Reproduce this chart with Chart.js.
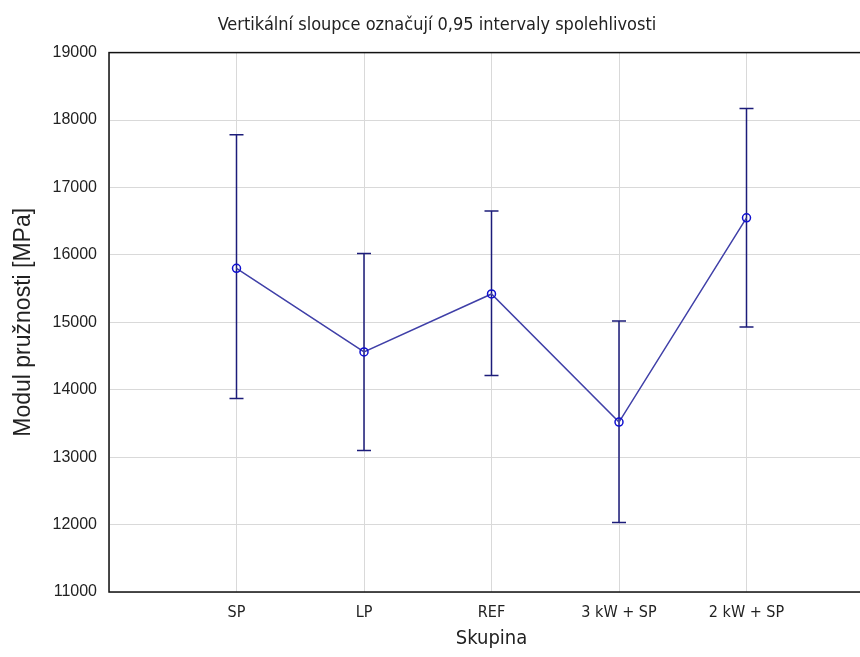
<!DOCTYPE html>
<html>
<head>
<meta charset="utf-8">
<script src="https://cdn.jsdelivr.net/npm/chart.js@4.4.1/dist/chart.umd.min.js"></script>
<style>
  html, body { margin: 0; padding: 0; background: #fff; overflow: hidden; }
  #wrap { width: 898px; height: 657px; }
</style>
</head>
<body>
<div id="wrap"><canvas id="chart" width="898" height="657"></canvas></div>
<script>
const categories = ["SP", "LP", "REF", "3 kW + SP", "2 kW + SP"];
const means = [15800, 14560, 15420, 13520, 16550];
const upper = [17780, 16020, 16650, 15020, 18170];
const lower = [13870, 13100, 14210, 12030, 14930];
const yTicks = [11000, 12000, 13000, 14000, 15000, 16000, 17000, 18000, 19000];

const narrow = "'Liberation Sans Narrow', 'DejaVu Sans Condensed', Arial, sans-serif";
const regular = "'Liberation Sans', Arial, sans-serif";

// draws the confidence-interval whiskers and the box round the plot
const errorBars = {
  id: "errorBars",
  beforeDatasetsDraw(chart) {
    const { ctx, scales } = chart;
    ctx.save();
    ctx.strokeStyle = "#1c1c7a";
    ctx.lineWidth = 1.5;
    means.forEach((m, i) => {
      const x = scales.x.getPixelForValue(i + 1);
      const yHi = scales.y.getPixelForValue(upper[i]);
      const yLo = scales.y.getPixelForValue(lower[i]);
      ctx.beginPath();
      ctx.moveTo(x, yHi);
      ctx.lineTo(x, yLo);
      ctx.moveTo(x - 7, yHi);
      ctx.lineTo(x + 7, yHi);
      ctx.moveTo(x - 7, yLo);
      ctx.lineTo(x + 7, yLo);
      ctx.stroke();
    });
    ctx.restore();
  },
  afterDraw(chart) {
    const { ctx, chartArea: a } = chart;
    ctx.save();
    ctx.strokeStyle = "#111";
    ctx.lineWidth = 1.5;
    ctx.strokeRect(a.left, a.top, a.right - a.left, a.bottom - a.top);
    ctx.restore();
  },
};

new Chart(document.getElementById("chart"), {
  type: "line",
  data: {
    datasets: [
      {
        data: means.map((m, i) => ({ x: i + 1, y: m })),
        borderColor: "#4040a8",
        borderWidth: 1.5,
        pointRadius: 4,
        pointBorderWidth: 1.5,
        pointBorderColor: "#1010d0",
        pointBackgroundColor: "rgba(255,255,255,0)",
        tension: 0,
      },
    ],
  },
  options: {
    responsive: false,
    animation: false,
    layout: { padding: { left: 0, right: 24, top: 0, bottom: 0 } },
    plugins: {
      legend: { display: false },
      tooltip: { enabled: false },
      title: {
        display: true,
        text: "Vertikální sloupce označují 0,95 intervaly spolehlivosti",
        color: "#222",
        font: { family: narrow, size: 18, weight: "normal" },
        padding: { top: 15, bottom: 16 },
      },
    },
    scales: {
      x: {
        type: "linear",
        min: 0,
        max: 6,
        afterFit(scale) { scale.height = 65; },
        afterBuildTicks(scale) {
          scale.ticks = [0, 1, 2, 3, 4, 5, 6].map((v) => ({ value: v }));
        },
        ticks: {
          color: "#222",
          font: { family: narrow, size: 16 },
          padding: 11,
          autoSkip: false,
          maxRotation: 0,
          callback: (v) => categories[v - 1] || "",
        },
        grid: { color: "#d9d9d9", lineWidth: 1, drawTicks: false },
        border: { display: false },
        title: {
          display: true,
          text: "Skupina",
          color: "#222",
          font: { family: narrow, size: 20 },
          padding: { top: 0, bottom: 6 },
        },
      },
      y: {
        min: 11000,
        max: 19000,
        afterFit(scale) { scale.width = 109; },
        afterBuildTicks(scale) {
          scale.ticks = yTicks.map((v) => ({ value: v }));
        },
        ticks: {
          color: "#222",
          font: { family: regular, size: 16 },
          padding: 12,
          callback: (v) => String(v),
        },
        grid: { color: "#d9d9d9", lineWidth: 1, drawTicks: false },
        border: { display: false },
        title: {
          display: true,
          text: "Modul pružnosti [MPa]",
          color: "#222",
          font: { family: regular, size: 23 },
          padding: { top: 10, bottom: 0 },
        },
      },
    },
  },
  plugins: [errorBars],
});
</script>
</body>
</html>
